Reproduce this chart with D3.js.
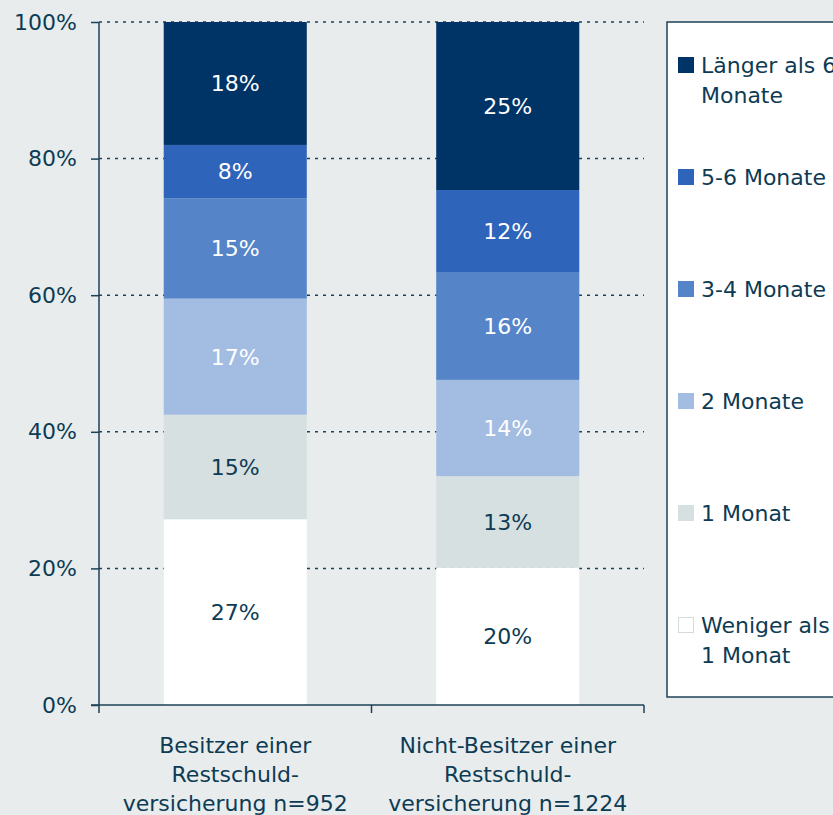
<!DOCTYPE html>
<html>
<head>
<meta charset="utf-8">
<script src="https://cdn.jsdelivr.net/npm/d3@7"></script>
<style>
  body { margin: 0; background: #e8ecec; }
  svg { display: block; font-family: "DejaVu Sans", Verdana, sans-serif; }
</style>
</head>
<body>
<div id="wrapper"></div>
<script>
// categories (x axis), each label split in lines
let groups = ["Besitzer", "Nicht-Besitzer"];
let groupLabels = [
  ["Besitzer einer", "Restschuld-", "versicherung n=952"],
  ["Nicht-Besitzer einer", "Restschuld-", "versicherung n=1224"]
];

// series, bottom to top
let seriesKeys = ["weniger1", "m1", "m2", "m34", "m56", "laenger6"];
let seriesNames = [
  ["Weniger als", "1 Monat"],
  ["1 Monat"],
  ["2 Monate"],
  ["3-4 Monate"],
  ["5-6 Monate"],
  ["Länger als 6", "Monate"]
];
let seriesColors = ["#ffffff", "#d7e0e0", "#a3bce1", "#5585c8", "#2f64bb", "#003366"];
let labelColors = ["#0e3b54", "#0e3b54", "#ffffff", "#ffffff", "#ffffff", "#ffffff"];

// values in percent (same order as seriesKeys)
let besitzerValues = [27.2, 15.3, 17.0, 14.7, 7.8, 18.0];
let nichtBesitzerValues = [20.1, 13.4, 14.1, 15.7, 12.1, 24.6];

let yTicks = [0, 20, 40, 60, 80, 100];

let textColor = "#0e3b54";
let axisColor = "#1d4257";

let dimensions = {
  width: 833,
  height: 815,
  margin: { top: 22, right: 189, bottom: 110, left: 99 }
};

function drawChart() {
  dimensions.boundedWidth =
    dimensions.width - dimensions.margin.left - dimensions.margin.right;
  dimensions.boundedHeight =
    dimensions.height - dimensions.margin.top - dimensions.margin.bottom;

  let dataSet = [besitzerValues, nichtBesitzerValues].map((vals, i) => {
    let row = { group: groups[i] };
    seriesKeys.forEach((k, j) => (row[k] = vals[j]));
    return row;
  });

  let stacked = d3.stack().keys(seriesKeys)(dataSet);

  let wrapper = d3
    .select("#wrapper")
    .append("svg")
    .attr("width", dimensions.width)
    .attr("height", dimensions.height);

  wrapper
    .append("rect")
    .attr("width", dimensions.width)
    .attr("height", dimensions.height)
    .attr("fill", "#e8ecec");

  let bounds = wrapper
    .append("g")
    .attr(
      "transform",
      `translate(${dimensions.margin.left}, ${dimensions.margin.top})`
    );

  let xScale = d3
    .scaleBand()
    .domain(groups)
    .range([0, dimensions.boundedWidth])
    .padding(0);

  let yScale = d3
    .scaleLinear()
    .domain([0, 100])
    .range([dimensions.boundedHeight, 0]);

  let barWidth = xScale.bandwidth() * 0.525;

  // dotted gridlines
  bounds
    .append("g")
    .selectAll("line")
    .data(yTicks.filter(d => d > 0))
    .join("line")
    .attr("x1", 0)
    .attr("x2", dimensions.boundedWidth)
    .attr("y1", d => yScale(d))
    .attr("y2", d => yScale(d))
    .attr("stroke", axisColor)
    .attr("stroke-width", 1.5)
    .attr("stroke-dasharray", "3,5");

  // stacked bars
  let layers = bounds
    .append("g")
    .selectAll("g")
    .data(stacked)
    .join("g")
    .attr("fill", (d, i) => seriesColors[i]);

  layers
    .selectAll("rect")
    .data(d => d)
    .join("rect")
    .attr("x", d => xScale(d.data.group) + (xScale.bandwidth() - barWidth) / 2)
    .attr("width", barWidth)
    .attr("y", d => yScale(d[1]))
    .attr("height", d => yScale(d[0]) - yScale(d[1]));

  // value labels
  stacked.forEach((layer, i) => {
    bounds
      .append("g")
      .selectAll("text")
      .data(layer)
      .join("text")
      .attr("x", d => xScale(d.data.group) + xScale.bandwidth() / 2)
      .attr("y", d => (yScale(d[0]) + yScale(d[1])) / 2)
      .attr("dy", "0.36em")
      .attr("text-anchor", "middle")
      .attr("font-size", 22)
      .attr("fill", labelColors[i])
      .text(d => Math.round(d[1] - d[0]) + "%");
  });

  // y axis
  let yAxisGenerator = d3
    .axisLeft(yScale)
    .tickValues(yTicks)
    .tickSize(8)
    .tickPadding(14)
    .tickFormat(d => d + "%");

  let yAxis = bounds.append("g").call(yAxisGenerator);
  yAxis.select(".domain").attr("stroke", axisColor).attr("stroke-width", 1.5)
    .attr("d", `M0,${yScale(100)}V${yScale(0)}`);
  yAxis.selectAll(".tick line").attr("stroke", axisColor).attr("stroke-width", 1.5);
  yAxis
    .selectAll(".tick text")
    .attr("fill", textColor)
    .attr("font-size", 22)
    .attr("font-family", "DejaVu Sans, sans-serif");

  // x axis: line with ticks at band edges
  let xAxis = bounds
    .append("g")
    .attr("transform", `translate(0, ${dimensions.boundedHeight})`);

  xAxis
    .append("line")
    .attr("x1", -8)
    .attr("x2", dimensions.boundedWidth)
    .attr("stroke", axisColor)
    .attr("stroke-width", 1.5);

  let edges = groups.map(g => xScale(g)).concat([dimensions.boundedWidth]);
  xAxis
    .selectAll(".edge")
    .data(edges)
    .join("line")
    .attr("class", "edge")
    .attr("x1", d => d)
    .attr("x2", d => d)
    .attr("y1", 0)
    .attr("y2", 8)
    .attr("stroke", axisColor)
    .attr("stroke-width", 1.5);

  xAxis
    .selectAll(".xlabel")
    .data(groups)
    .join("text")
    .attr("class", "xlabel")
    .attr("x", d => xScale(d) + xScale.bandwidth() / 2)
    .attr("y", 48)
    .attr("text-anchor", "middle")
    .attr("font-size", 22)
    .attr("fill", textColor)
    .each(function(d, i) {
      d3.select(this)
        .selectAll("tspan")
        .data(groupLabels[i])
        .join("tspan")
        .attr("x", xScale(d) + xScale.bandwidth() / 2)
        .attr("dy", (t, j) => (j === 0 ? 0 : 29))
        .text(t => t);
    });

  // legend
  let legend = wrapper.append("g").attr("transform", "translate(667, 22)");

  legend
    .append("rect")
    .attr("width", 200)
    .attr("height", 675)
    .attr("fill", "#ffffff")
    .attr("stroke", axisColor)
    .attr("stroke-width", 1.5);

  let legendOrder = d3.range(seriesKeys.length).reverse();

  let items = legend
    .selectAll(".item")
    .data(legendOrder)
    .join("g")
    .attr("class", "item")
    .attr("transform", (d, i) => `translate(11, ${43 + i * 112})`);

  items
    .append("rect")
    .attr("x", 0.5)
    .attr("y", -7.5)
    .attr("width", 15)
    .attr("height", 15)
    .attr("fill", d => seriesColors[d])
    .attr("stroke", d => (d === 0 ? "#d3dbdb" : seriesColors[d]))
    .attr("stroke-width", 1);

  items
    .append("text")
    .attr("x", 23)
    .attr("y", 0)
    .attr("font-size", 22)
    .attr("fill", textColor)
    .selectAll("tspan")
    .data(d => seriesNames[d])
    .join("tspan")
    .attr("x", 23)
    .attr("dy", (t, j) => (j === 0 ? "0.36em" : 30))
    .text(t => t);
}

drawChart();
</script>
</body>
</html>
